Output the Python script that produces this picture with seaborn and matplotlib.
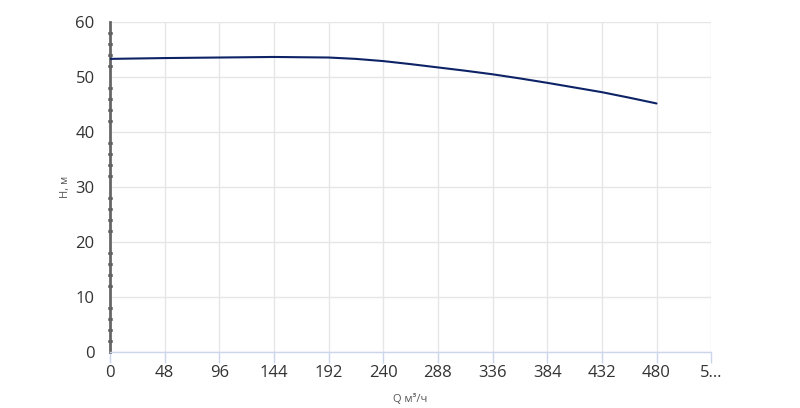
import numpy as np
import matplotlib.pyplot as plt
import seaborn as sns
import pandas as pd
from matplotlib.ticker import MultipleLocator

# Q-H curve
q_values = [0, 48, 96, 144, 192, 216, 240, 264, 288, 312, 336, 360, 384, 408, 432, 456, 480]
h_values = [53.3, 53.45, 53.55, 53.65, 53.55, 53.3, 52.9, 52.35, 51.75, 51.15, 50.5,
            49.75, 48.95, 48.1, 47.25, 46.25, 45.2]
x_ticks = [0, 48, 96, 144, 192, 240, 288, 336, 384, 432, 480, 528]
x_tick_labels = ["0", "48", "96", "144", "192", "240", "288", "336", "384", "432", "480", "5…"]
y_ticks = [0, 10, 20, 30, 40, 50, 60]

sns.set_style("white")
plt.rcParams['font.family'] = ['Open Sans', 'DejaVu Sans']

df = pd.DataFrame({"Q": q_values, "H": h_values})

fig = plt.figure(figsize=(8, 4.08), dpi=100)
ax = fig.add_axes([0.1375, 0.137, 0.889 - 0.1375, 0.946 - 0.137])

sns.lineplot(data=df, x="Q", y="H", ax=ax, color="#0d2366", linewidth=1.5)

ax.set_xlim(0, 528)
ax.set_ylim(0, 60)
ax.set_xticks(x_ticks)
ax.set_xticklabels(x_tick_labels)
ax.set_yticks(y_ticks)
ax.yaxis.set_minor_locator(MultipleLocator(2))

ax.grid(True, which="major", color="#e6e6e6", linewidth=1)
ax.set_axisbelow(True)

for s in ["top", "right"]:
    ax.spines[s].set_visible(False)
ax.spines["left"].set_color("#666666")
ax.spines["left"].set_linewidth(2)
ax.spines["left"].set_zorder(1)
ax.spines["bottom"].set_color("#ccd6eb")
ax.spines["bottom"].set_linewidth(1)

ax.tick_params(axis="x", which="major", length=8, color="#ccd6eb", width=1,
               labelsize=12, labelcolor="#333333", pad=1, bottom=True)
ax.tick_params(axis="y", which="major", length=0, labelsize=12,
               labelcolor="#333333", pad=11)
ax.tick_params(axis="y", which="minor", length=2.2, width=2, color="#111111",
               direction="inout", left=True)
for t in ax.yaxis.get_minor_ticks():
    t.tick1line.set_zorder(5)

ax.set_xlabel("Q м³/ч", fontsize=8, color="#555555", labelpad=10)
ax.set_ylabel("H, м", fontsize=8, color="#555555", labelpad=3)

fig.savefig("out.png", dpi=100)
